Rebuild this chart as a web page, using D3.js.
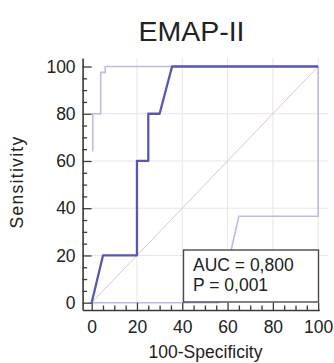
<!DOCTYPE html>
<html>
<head>
<meta charset="utf-8">
<script src="https://cdn.jsdelivr.net/npm/d3@7"></script>
<style>
  body { margin: 0; background: #fff; }
  svg { display: block; font-family: "Liberation Sans", Arial, sans-serif; }
</style>
</head>
<body>
<svg id="chart" width="334" height="363"></svg>
<script>
// ROC curve and its confidence band
const rocX = [0, 5, 20, 20, 25, 25, 30, 35.5, 100];
const rocY = [0, 20, 20, 60, 60, 80, 80, 100, 100];
const upperX = [0.5, 0.5, 4, 4, 6, 6, 100];
const upperY = [64, 80, 80, 97.5, 97.5, 100, 100];
const lowerX = [0, 56, 61.5, 65, 100, 100];
const lowerY = [0, 0, 22, 36.6, 36.6, 100];
const majorTicks = [0, 20, 40, 60, 80, 100];
const minorTicks = d3.range(0, 101, 5).filter(v => v % 20 !== 0);
const statLines = ['AUC = 0,800', 'P = 0,001'];

const svg = d3.select('#chart');

const x = d3.scaleLinear().domain([-4, 100.5]).range([82.6, 319.3]);
const y = d3.scaleLinear().domain([-3.1, 103.6]).range([310, 58]);

// grid
const grid = svg.append('g').attr('stroke', '#e6e6ec').attr('stroke-width', 1);
grid.selectAll('line.v')
  .data(majorTicks.slice(1))
  .join('line')
  .attr('x1', d => x(d)).attr('x2', d => x(d))
  .attr('y1', y(103.6)).attr('y2', y(0));
grid.selectAll('line.h')
  .data(majorTicks.slice(1, 5))
  .join('line')
  .attr('x1', x(0)).attr('x2', x(104.5))
  .attr('y1', d => y(d)).attr('y2', d => y(d));

const line = d3.line().x(d => x(d[0])).y(d => y(d[1]));

// reference diagonal
svg.append('path')
  .datum([[0, 0], [100, 100]])
  .attr('d', line)
  .attr('fill', 'none')
  .attr('stroke', '#e2c6cc')
  .attr('stroke-width', 1);

// confidence band
[[upperX, upperY], [lowerX, lowerY]].forEach(([xs, ys]) => {
  svg.append('path')
    .datum(xs.map((v, i) => [v, ys[i]]))
    .attr('d', line)
    .attr('fill', 'none')
    .attr('stroke', '#bcbce2')
    .attr('stroke-width', 1.6);
});

// ROC curve
svg.append('path')
  .datum(rocX.map((v, i) => [v, rocY[i]]))
  .attr('d', line)
  .attr('fill', 'none')
  .attr('stroke', '#5858b4')
  .attr('stroke-width', 2.3)
  .attr('stroke-linejoin', 'round');

// axes
const styleAxis = g => {
  g.select('.domain').attr('stroke', '#3a3a3a').attr('stroke-width', 1.6);
  g.selectAll('.tick line').attr('stroke', '#3a3a3a').attr('stroke-width', 1.3);
  g.selectAll('.tick text').attr('fill', '#222').style('font-size', '17.5px');
};

svg.append('g')
  .attr('transform', `translate(0,${y(-3.1)})`)
  .call(d3.axisBottom(x).tickValues(minorTicks).tickSizeInner(-4.5).tickSizeOuter(0).tickFormat(''))
  .call(g => g.select('.domain').remove())
  .call(styleAxis);
svg.append('g')
  .attr('transform', `translate(${x(-4)},0)`)
  .call(d3.axisLeft(y).tickValues(minorTicks).tickSizeInner(-4.5).tickSizeOuter(0).tickFormat(''))
  .call(g => g.select('.domain').remove())
  .call(styleAxis);

svg.append('g')
  .attr('transform', `translate(0,${y(-3.1)})`)
  .call(d3.axisBottom(x).tickValues(majorTicks).tickSizeInner(-(y(-3.1) - y(0))).tickSizeOuter(0).tickPadding(11))
  .call(styleAxis);
svg.append('g')
  .attr('transform', `translate(${x(-4)},0)`)
  .call(d3.axisLeft(y).tickValues(majorTicks).tickSizeInner(-(x(0) - x(-4))).tickSizeOuter(0).tickPadding(7))
  .call(styleAxis);

// stats box
const box = svg.append('g');
box.append('rect')
  .attr('x', 183.5).attr('y', 250)
  .attr('width', 135).attr('height', 52)
  .attr('fill', '#fff')
  .attr('stroke', '#4a4a4a')
  .attr('stroke-width', 1.4);
box.selectAll('text')
  .data(statLines)
  .join('text')
  .attr('x', 193)
  .attr('y', (d, i) => 271 + i * 20)
  .attr('fill', '#222')
  .style('font-size', '17.5px')
  .text(d => d);

// titles
svg.append('text')
  .attr('x', 191.5).attr('y', 41)
  .attr('text-anchor', 'middle')
  .attr('fill', '#222')
  .style('font-size', '28.5px')
  .text('EMAP-II');

svg.append('text')
  .attr('x', 205.5).attr('y', 358)
  .attr('text-anchor', 'middle')
  .attr('fill', '#222')
  .style('font-size', '17.5px')
  .text('100-Specificity');

svg.append('text')
  .attr('transform', 'translate(23,182) rotate(-90)')
  .attr('text-anchor', 'middle')
  .attr('fill', '#222')
  .style('font-size', '17.5px')
  .style('letter-spacing', '1.3px')
  .text('Sensitivity');
</script>
</body>
</html>
